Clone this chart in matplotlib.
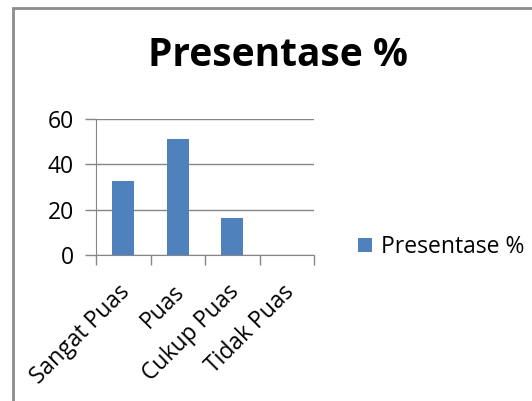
import matplotlib
matplotlib.use("Agg")
import matplotlib.pyplot as plt
from matplotlib.patches import Rectangle
from matplotlib.transforms import ScaledTranslation

categories = ["Sangat Puas", "Puas", "Cukup Puas", "Tidak Puas"]
values = [32.65, 51.02, 16.33, 0]
series_name = "Presentase %"
yticks = [0, 20, 40, 60]

W, H = 532, 401
fig = plt.figure(figsize=(W / 100, H / 100), dpi=100)
plt.rcParams['font.family'] = ['Open Sans', 'DejaVu Sans']

# outer chart frame
fig.add_artist(Rectangle((12.5 / W, -0.05), 1.0, 1 - 7.5 / H + 0.05,
                         transform=fig.transFigure, fill=False,
                         edgecolor='#8c8c8c', lw=2.0, zorder=0))

ax = fig.add_axes([96 / W, 1 - 255 / H, (314 - 96) / W, (255 - 119) / H])
bar_color = '#4f81bd'
x = list(range(len(categories)))
bars = ax.bar(x, values, width=0.40, color=bar_color, zorder=3, label=series_name)

ax.set_xlim(-0.5, len(categories) - 0.5)
ax.set_ylim(0, 60)
ax.set_yticks(yticks)
ax.set_yticklabels([str(v) for v in yticks], fontsize=16.5)
ax.grid(axis='y', color='#868686', lw=1.0, zorder=1)
ax.tick_params(axis='y', length=8, color='#868686', width=1.0, pad=8)

# category boundary ticks on x axis
ax.set_xticks([i - 0.5 for i in range(len(categories) + 1)], minor=False)
ax.set_xticklabels([])
ax.tick_params(axis='x', which='major', length=7, color='#868686', width=1.0)
ax.set_xticks(x, minor=True)
ax.set_xticklabels(categories, minor=True, rotation=45, ha='right',
                   rotation_mode='anchor', fontsize=16.5)
ax.tick_params(axis='x', which='minor', length=0, pad=18)
off = ScaledTranslation(-5 / 100, 0, fig.dpi_scale_trans)
for lab in ax.get_xticklabels(minor=True):
    lab.set_transform(lab.get_transform() + off)

for s in ['top', 'right']:
    ax.spines[s].set_visible(False)
ax.spines['left'].set_color('#868686')
ax.spines['bottom'].set_color('#868686')

fig.text(278 / W, 1 - 56 / H, "Presentase %", fontsize=28, fontweight='bold',
         ha='center', va='center')

fig.legend(handles=[bars], labels=[series_name], loc='center left',
           bbox_to_anchor=(337 / W, 1 - 247 / H), frameon=False,
           fontsize=16.5, handlelength=0.62, handleheight=0.62, handletextpad=0.4)

fig.savefig("out.png", dpi=100)
